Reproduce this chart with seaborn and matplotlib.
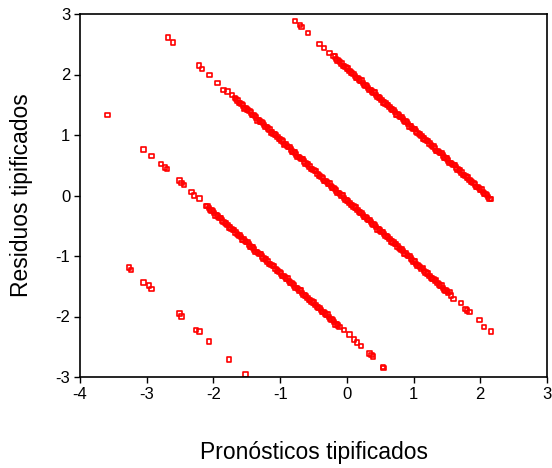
import matplotlib
matplotlib.use("Agg")
import matplotlib.pyplot as plt
import seaborn as sns
import pandas as pd

# Standardized predicted values (x) and standardized residuals (y),
# one band per observed value of the dependent variable.
upper_pred = [-0.78, -0.70, -0.68, -0.58, -0.41, -0.34, -0.26,
              -0.20, -0.16, -0.12, -0.08, -0.04, 0.00, 0.04, 0.08, 0.12, 0.16,
              0.20, 0.24, 0.28, 0.32, 0.36, 0.40, 0.44, 0.48, 0.52, 0.56,
              0.60, 0.64, 0.68, 0.72, 0.76, 0.80, 0.84, 0.88, 0.92, 0.96,
              1.00, 1.04, 1.08, 1.12, 1.16, 1.20, 1.24, 1.28, 1.32, 1.36,
              1.40, 1.44, 1.48, 1.52, 1.56, 1.60, 1.64, 1.68, 1.72, 1.76,
              1.80, 1.84, 1.88, 1.92, 1.96, 2.00, 2.04, 2.08, 2.12, 2.16]
upper_resid = [2.88, 2.82, 2.79, 2.69, 2.50, 2.44, 2.36,
               2.31, 2.26, 2.22, 2.18, 2.14, 2.10, 2.06, 2.02, 1.98, 1.94,
               1.90, 1.86, 1.82, 1.78, 1.74, 1.70, 1.66, 1.62, 1.58, 1.54,
               1.50, 1.46, 1.42, 1.38, 1.34, 1.30, 1.26, 1.22, 1.18, 1.14,
               1.10, 1.06, 1.02, 0.98, 0.94, 0.90, 0.86, 0.82, 0.78, 0.74,
               0.70, 0.66, 0.62, 0.58, 0.54, 0.50, 0.46, 0.42, 0.38, 0.34,
               0.30, 0.26, 0.22, 0.18, 0.14, 0.10, 0.06, 0.02, -0.02, -0.06]
upper_pred_b = [-0.18, -0.14, -0.10, -0.06, -0.02, 0.02, 0.06, 0.10, 0.14, 0.18,
                0.22, 0.26, 0.30, 0.34, 0.38, 0.42, 0.46, 0.50, 0.54, 0.58,
                0.62, 0.66, 0.70, 0.74, 0.78, 0.82, 0.86, 0.90, 0.94, 0.98,
                1.02, 1.06, 1.10, 1.14, 1.18, 1.22, 1.26, 1.30, 1.34, 1.38,
                1.42, 1.46, 1.50, 1.54, 1.58, 1.62, 1.66, 1.70, 1.74, 1.78,
                1.82, 1.86, 1.90, 1.94, 1.98, 2.02, 2.06, 2.10, 2.14]
upper_resid_b = [2.30, 2.23, 2.21, 2.14, 2.12, 2.10, 2.03, 2.01, 1.94, 1.92,
                 1.90, 1.83, 1.81, 1.74, 1.72, 1.70, 1.63, 1.61, 1.54, 1.52,
                 1.50, 1.43, 1.41, 1.34, 1.32, 1.30, 1.23, 1.21, 1.14, 1.12,
                 1.10, 1.03, 1.01, 0.94, 0.92, 0.90, 0.83, 0.81, 0.74, 0.72,
                 0.70, 0.63, 0.61, 0.54, 0.52, 0.50, 0.43, 0.41, 0.34, 0.32,
                 0.30, 0.23, 0.21, 0.14, 0.12, 0.10, 0.03, 0.01, -0.06]

middle_pred = [-2.68, -2.61, -2.22, -2.17, -2.06, -1.94, -1.85, -1.79, -1.72,
               -1.68, -1.64, -1.60, -1.56, -1.52, -1.48, -1.44, -1.40, -1.36,
               -1.32, -1.28, -1.24, -1.20, -1.16, -1.12, -1.08, -1.04, -1.00,
               -0.96, -0.92, -0.88, -0.84, -0.80, -0.76, -0.72, -0.68, -0.64,
               -0.60, -0.56, -0.52, -0.48, -0.44, -0.40, -0.36, -0.32, -0.28,
               -0.24, -0.20, -0.16, -0.12, -0.08, -0.04, 0.00, 0.04, 0.08,
               0.12, 0.16, 0.20, 0.24, 0.28, 0.32, 0.36, 0.40, 0.44, 0.48,
               0.52, 0.56, 0.60, 0.64, 0.68, 0.72, 0.76, 0.80, 0.84, 0.88,
               0.92, 0.96, 1.00, 1.04, 1.08, 1.12, 1.16, 1.20, 1.24, 1.28,
               1.32, 1.36, 1.40, 1.44, 1.48, 1.52, 1.56,
               1.60, 1.71, 1.78, 1.80, 1.84, 1.99, 2.06, 2.16]
middle_resid = [2.61, 2.53, 2.15, 2.09, 1.99, 1.86, 1.74, 1.72, 1.66,
                1.61, 1.57, 1.53, 1.49, 1.45, 1.41, 1.37, 1.33, 1.29,
                1.25, 1.21, 1.17, 1.13, 1.09, 1.05, 1.01, 0.97, 0.93,
                0.89, 0.85, 0.80, 0.76, 0.72, 0.68, 0.64, 0.60, 0.56,
                0.52, 0.48, 0.44, 0.40, 0.36, 0.32, 0.28, 0.24, 0.20,
                0.16, 0.12, 0.08, 0.04, 0.00, -0.04, -0.08, -0.12, -0.16,
                -0.20, -0.24, -0.28, -0.32, -0.36, -0.40, -0.44, -0.48, -0.52, -0.56,
                -0.60, -0.64, -0.68, -0.72, -0.76, -0.80, -0.84, -0.88, -0.92, -0.96,
                -1.00, -1.04, -1.09, -1.13, -1.17, -1.21, -1.25, -1.29, -1.33, -1.37,
                -1.41, -1.45, -1.49, -1.53, -1.57, -1.61, -1.65,
                -1.71, -1.78, -1.88, -1.90, -1.93, -2.06, -2.17, -2.25]
middle_pred_b = [-1.66, -1.62, -1.58, -1.54, -1.50, -1.46, -1.42, -1.38, -1.34, -1.30,
                 -1.26, -1.22, -1.18, -1.14, -1.10, -1.06, -1.02, -0.98, -0.94, -0.90,
                 -0.86, -0.82, -0.78, -0.74, -0.70, -0.66, -0.62, -0.58, -0.54, -0.50,
                 -0.46, -0.42, -0.38, -0.34, -0.30, -0.26, -0.22, -0.18, -0.14, -0.10,
                 -0.06, -0.02, 0.02, 0.06, 0.10, 0.14, 0.18, 0.22, 0.26, 0.30,
                 0.34, 0.38, 0.42, 0.46, 0.50, 0.54, 0.58, 0.62, 0.66, 0.70,
                 0.74, 0.78, 0.82, 0.86, 0.90, 0.94, 0.98, 1.02, 1.06, 1.10,
                 1.14, 1.18, 1.22, 1.26, 1.30, 1.34, 1.38, 1.42, 1.46, 1.50,
                 1.54]
middle_resid_b = [1.60, 1.53, 1.51, 1.44, 1.42, 1.40, 1.33, 1.31, 1.24, 1.22,
                  1.20, 1.13, 1.11, 1.04, 1.02, 1.00, 0.93, 0.91, 0.84, 0.82,
                  0.80, 0.73, 0.71, 0.64, 0.62, 0.60, 0.53, 0.51, 0.44, 0.42,
                  0.40, 0.33, 0.31, 0.24, 0.22, 0.20, 0.13, 0.11, 0.04, 0.02,
                  0.00, -0.07, -0.09, -0.16, -0.18, -0.20, -0.27, -0.29, -0.36, -0.38,
                  -0.40, -0.47, -0.49, -0.56, -0.58, -0.60, -0.67, -0.69, -0.76, -0.78,
                  -0.80, -0.87, -0.89, -0.96, -0.98, -1.00, -1.07, -1.09, -1.16, -1.18,
                  -1.20, -1.27, -1.29, -1.36, -1.38, -1.40, -1.47, -1.49, -1.56, -1.58,
                  -1.60]

lower_pred = [-3.59, -3.05, -2.93, -2.79, -2.73, -2.70, -2.51, -2.48, -2.44,
              -2.33, -2.29, -2.21,
              -2.11, -2.07, -2.03, -1.99, -1.95, -1.91, -1.87, -1.83, -1.79,
              -1.75, -1.71, -1.67, -1.63, -1.59, -1.55, -1.51, -1.47, -1.43,
              -1.39, -1.35, -1.31, -1.27, -1.23, -1.19, -1.15, -1.11, -1.07,
              -1.03, -0.99, -0.95, -0.91, -0.87, -0.83, -0.79, -0.75, -0.71,
              -0.67, -0.63, -0.59, -0.55, -0.51, -0.47, -0.43, -0.39, -0.35,
              -0.31, -0.27, -0.23, -0.19, -0.15, -0.11,
              -0.04, 0.04, 0.11, 0.15, 0.21, 0.34, 0.37, 0.39, 0.54, 0.55]
lower_resid = [1.33, 0.76, 0.65, 0.52, 0.46, 0.44, 0.25, 0.21, 0.17,
               0.06, 0.00, -0.05,
               -0.17, -0.21, -0.25, -0.29, -0.33, -0.37, -0.41, -0.45, -0.49,
               -0.53, -0.57, -0.61, -0.65, -0.69, -0.73, -0.77, -0.81, -0.85,
               -0.89, -0.93, -0.97, -1.01, -1.05, -1.09, -1.13, -1.17, -1.21,
               -1.25, -1.29, -1.33, -1.37, -1.41, -1.45, -1.49, -1.53, -1.57,
               -1.61, -1.65, -1.69, -1.73, -1.77, -1.81, -1.85, -1.89, -1.93,
               -1.97, -2.01, -2.05, -2.09, -2.13, -2.17,
               -2.22, -2.30, -2.38, -2.43, -2.49, -2.61, -2.64, -2.66, -2.83, -2.85]
lower_pred_b = [-2.09, -2.05, -2.01, -1.97, -1.93, -1.89, -1.85, -1.81, -1.77, -1.73,
                -1.69, -1.65, -1.61, -1.57, -1.53, -1.49, -1.45, -1.41, -1.37, -1.33,
                -1.29, -1.25, -1.21, -1.17, -1.13, -1.09, -1.05, -1.01, -0.97, -0.93,
                -0.89, -0.85, -0.81, -0.77, -0.73, -0.69, -0.65, -0.61, -0.57, -0.53,
                -0.49, -0.45, -0.41, -0.37, -0.33, -0.29, -0.25, -0.21, -0.17, -0.13]
lower_resid_b = [-0.17, -0.24, -0.26, -0.33, -0.35, -0.37, -0.44, -0.46, -0.53, -0.55,
                 -0.57, -0.64, -0.66, -0.73, -0.75, -0.77, -0.84, -0.86, -0.93, -0.95,
                 -0.97, -1.04, -1.06, -1.13, -1.15, -1.17, -1.24, -1.26, -1.33, -1.35,
                 -1.37, -1.44, -1.46, -1.53, -1.55, -1.57, -1.64, -1.66, -1.73, -1.75,
                 -1.77, -1.84, -1.86, -1.93, -1.95, -1.97, -2.04, -2.06, -2.13, -2.15]

bottom_pred = [-3.27, -3.24, -3.05, -2.97, -2.93, -2.51, -2.48, -2.26, -2.21,
               -2.07, -1.77, -1.52]
bottom_resid = [-1.19, -1.23, -1.44, -1.49, -1.55, -1.95, -2.00, -2.22, -2.25,
                -2.41, -2.71, -2.96]

x_ticks = [-4, -3, -2, -1, 0, 1, 2, 3]
y_ticks = [-3, -2, -1, 0, 1, 2, 3]
x_label = "Pronósticos tipificados"
y_label = "Residuos tipificados"

df = pd.DataFrame({
    "pred": (upper_pred + upper_pred_b + middle_pred + middle_pred_b
             + lower_pred + lower_pred_b + bottom_pred),
    "resid": (upper_resid + upper_resid_b + middle_resid + middle_resid_b
              + lower_resid + lower_resid_b + bottom_resid),
})

sns.set_theme(style="ticks")
plt.rcParams["font.family"] = ["Liberation Sans", "DejaVu Sans"]

fig = plt.figure(figsize=(5.52, 4.68), dpi=100)
ax = fig.add_axes([80 / 552, 1 - 377 / 468, 467 / 552, 363 / 468])

# Hollow squares: no face fill, so overlapping markers merge into solid bands
sns.scatterplot(data=df, x="pred", y="resid", ax=ax, marker="s", s=10,
                facecolor="none", edgecolor="#ff0000", linewidth=1.2,
                legend=False)

ax.set_xlim(-4, 3)
ax.set_ylim(-3, 3)
ax.set_xticks(x_ticks)
ax.set_yticks(y_ticks)
ax.set_xticklabels([str(v) for v in x_ticks])
ax.set_yticklabels([str(v) for v in y_ticks])
ax.tick_params(axis="both", direction="out", length=4, width=1,
               color="black", labelsize=12, labelcolor="black", pad=3)

for side in ["left", "bottom", "top", "right"]:
    ax.spines[side].set_visible(True)
    ax.spines[side].set_color("black")
    ax.spines[side].set_linewidth(1.2)

ax.set_xlabel(x_label, fontsize=16.5, color="black", va="center")
ax.set_ylabel(y_label, fontsize=16.5, color="black", va="center")
ax.xaxis.set_label_coords(0.5, -(453 - 377) / 363)
ax.yaxis.set_label_coords((22 - 80) / 467, 0.5)

fig.savefig("out.png", dpi=100, facecolor="white")
